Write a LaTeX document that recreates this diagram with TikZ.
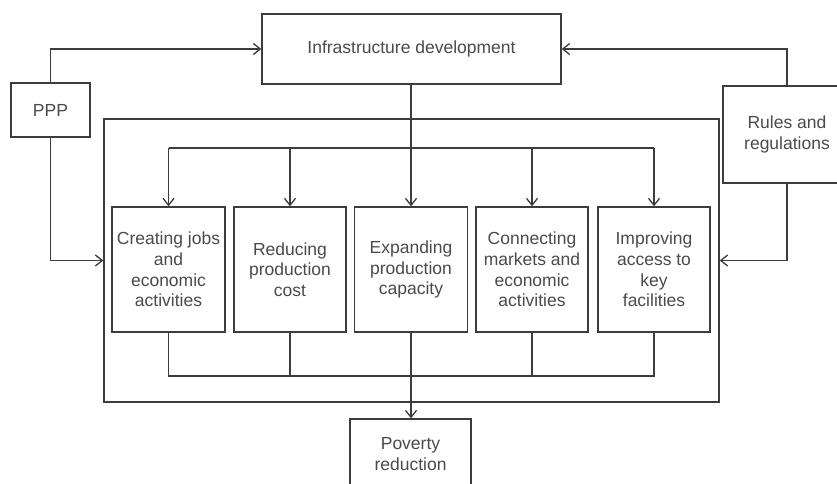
\documentclass[tikz,border=0pt]{standalone}
\usepackage{fontspec}
\setmainfont{Liberation Sans}
\usetikzlibrary{arrows.meta}
\definecolor{linegray}{HTML}{3C3C3C}
\definecolor{textgray}{HTML}{4A4A4A}
\begin{document}
\begin{tikzpicture}[x=1pt,y=-1pt,
  box/.style={draw=linegray, line width=1.3pt, rectangle, inner sep=0pt,
    align=center, text=textgray, font=\fontsize{17.5}{20.7}\selectfont},
  link/.style={draw=linegray, line width=1.3pt},
  arr/.style={link, -{Straight Barb[length=7pt,width=11pt,line width=1.3pt]}}]
\useasboundingbox (0,0) rectangle (837,484);
\clip (0,0) rectangle (837,484);
% outer frame around the five channels
\node[box, minimum width=615pt, minimum height=283pt] (frame) at (411.5,260.5) {};
% drivers
\node[box, minimum width=299pt, minimum height=70pt] (inf) at (411.5,49) {Infrastructure development};
\node[box, minimum width=79pt, minimum height=54pt] (ppp) at (50.5,110) {PPP};
\node[box, minimum width=128pt, minimum height=97pt] (rules) at (787,134.5) {Rules and\\regulations};
% channels
\node[box, minimum width=113pt, minimum height=125pt] (b1) at (168.5,269.5) {Creating jobs\\and\\economic\\activities};
\node[box, minimum width=112pt, minimum height=125pt] (b2) at (290,269.5) {Reducing\\production\\cost};
\node[box, minimum width=113pt, minimum height=125pt] (b3) at (411,269.5) {Expanding\\production\\capacity};
\node[box, minimum width=112pt, minimum height=125pt] (b4) at (532,269.5) {Connecting\\markets and\\economic\\activities};
\node[box, minimum width=112pt, minimum height=125pt] (b5) at (654,269.5) {Improving\\access to\\key\\facilities};
% outcome
\node[box, minimum width=121pt, minimum height=70pt] (pov) at (410.5,454) {Poverty\\reduction};
% distribution and collection rails
\coordinate (top) at (411,148);
\coordinate (bot) at (411,376);
\draw[link] (b1.north |- top) -- (b5.north |- top);
\draw[arr] (inf.south -| b3.north) -- (b3.north);
\foreach \b in {b1,b2,b4,b5} \draw[arr] (\b.north |- top) -- (\b.north);
\draw[link] (b1.south) -- (b1.south |- bot) -- (b5.south |- bot) -- (b5.south);
\draw[link] (b2.south) -- (b2.south |- bot);
\draw[link] (b4.south) -- (b4.south |- bot);
\draw[arr] (b3.south) -- (pov.north -| b3.south);
% side drivers
\draw[arr] (ppp.north) |- (inf.west);
\draw[arr] (ppp.south) |- (frame.west);
\draw[arr] (rules.north) |- (inf.east);
\draw[arr] (rules.south) |- (frame.east);
\end{tikzpicture}
\end{document}
